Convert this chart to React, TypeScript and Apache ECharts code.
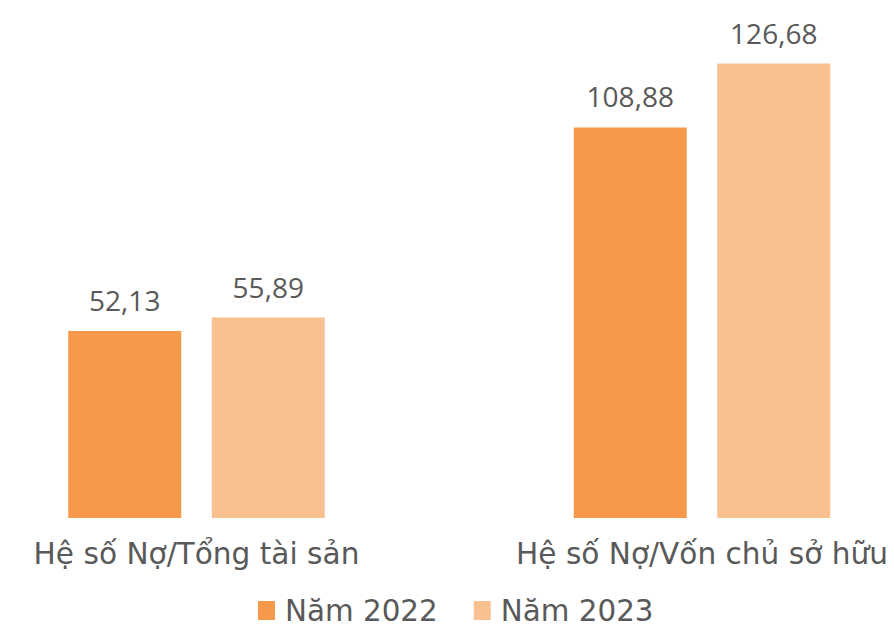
import React, { useEffect, useRef } from "react";
import * as echarts from "echarts";

const categories = ["Hệ số Nợ/Tổng tài sản", "Hệ số Nợ/Vốn chủ sở hữu"];
const seriesNames = ["Năm 2022", "Năm 2023"];
const values2022 = [52.13, 108.88];
const values2023 = [55.89, 126.68];
const colors = ["#F7994A", "#F9C090"];

const FONT = "'Open Sans', 'Noto Sans', sans-serif";
const WIDE = "'DejaVu Sans', sans-serif";
const fmt = (v: number) => v.toFixed(2).replace(".", ",");

export default function App() {
  const ref = useRef<HTMLDivElement>(null);
  useEffect(() => {
    if (!ref.current) return;
    const chart = echarts.init(ref.current, null, { renderer: "svg" });
    const mk = (name: string, data: number[], color: string) => ({
      name,
      type: "bar",
      data,
      barWidth: 113,
      barGap: "27%",
      itemStyle: { color },
      label: {
        show: true,
        position: "top",
        distance: 17,
        formatter: (p: any) => fmt(p.value),
        color: "#595959",
        fontSize: 28,
        fontFamily: FONT,
      },
    });
    chart.setOption({
      animation: false,
      grid: { left: 196.5, width: 505.5, top: 0, bottom: 112 },
      xAxis: {
        type: "category",
        data: categories,
        boundaryGap: false,
        axisLine: { show: false },
        axisTick: { show: false },
        axisLabel: {
          color: "#595959",
          fontSize: 29.6,
          fontFamily: WIDE,
          margin: 21,
          interval: 0,
        },
      },
      yAxis: {
        type: "value",
        min: 0,
        max: 144.4,
        show: false,
        splitLine: { show: false },
      },
      legend: {
        bottom: 0,
        left: 253,
        itemWidth: 17,
        itemHeight: 19,
        itemGap: 36,
        icon: "rect",
        data: seriesNames,
        textStyle: { color: "#595959", fontSize: 29.4, fontFamily: WIDE, padding: [0, 0, 0, 5] },
      },
      series: [
        mk(seriesNames[0], values2022, colors[0]),
        mk(seriesNames[1], values2023, colors[1]),
      ],
    });
    return () => chart.dispose();
  }, []);
  return (
    <div
      ref={ref}
      style={{ position: "fixed", left: 0, top: 0, width: 894, height: 630, background: "#fff" }}
    />
  );
}
